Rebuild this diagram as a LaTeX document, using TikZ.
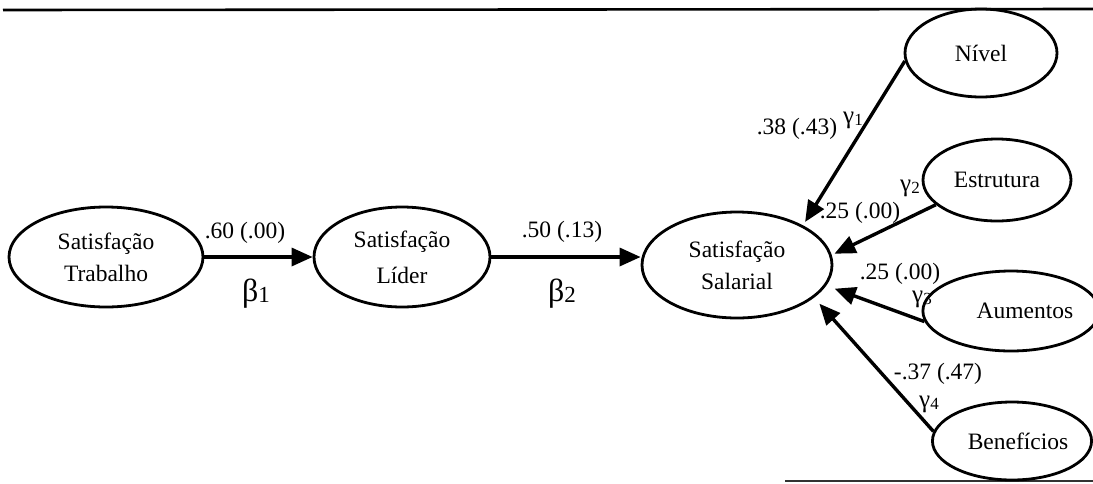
\documentclass[tikz,border=0pt]{standalone}
\usepackage{fontspec}
\setmainfont{Liberation Serif}
\usetikzlibrary{shapes.geometric,arrows.meta,calc}
\tikzset{
  lv/.style={draw, ellipse, line width=2.8pt, inner sep=0pt, align=center,
     font=\fontsize{23.5}{32}\selectfont},
  arr/.style={line width=3.4pt, -{Triangle[length=21pt,width=18pt]}},
  lab/.style={font=\fontsize{23.5}{26}\selectfont, inner sep=0pt},
  gr/.style={font=\fontsize{25}{26}\selectfont, inner sep=0pt},
  bt/.style={font=\fontsize{32}{34}\selectfont, inner sep=0pt},
}
\newcommand{\gsub}[2]{#1\raisebox{-2pt}{\fontsize{17}{17}\selectfont #2}}
\newcommand{\bsub}[2]{#1\raisebox{-1pt}{\fontsize{23}{23}\selectfont #2}}
\begin{document}
\begin{tikzpicture}[x=1pt,y=-1pt]
\useasboundingbox (0,0) rectangle (1093,483);
% rules
\draw[line width=2.6pt] (3,10) coordinate (tl) -- (1093,9) coordinate (tr);
\draw[line width=2pt, black!80] (785,481) coordinate (bl) -- (1093,481) coordinate (br);
% latent variables
\node[lv, minimum width=194pt, minimum height=100pt] (trab) at (106,257) {Satisfação\\Trabalho};
\node[lv, minimum width=176pt, minimum height=100pt] (lider) at (402,257) {Satisfação\\[4pt]Líder};
\node[lv, minimum width=190pt, minimum height=106pt] (sal) at (737,265) {Satisfação\\Salarial};
\node[lv, minimum width=152pt, minimum height=88pt] (niv) at (981,53) {Nível};
\node[lv, minimum width=148pt, minimum height=82pt] (est) at (997,180) {Estrutura};
\node[lv, minimum width=146pt, minimum height=80pt] (aum) at (1011,311) {\hspace*{28pt}Aumentos};
\node[lv, minimum width=146pt, minimum height=78pt] (ben) at (1012,441) {\hspace*{12pt}Benefícios};
% paths
\draw[arr] (trab.east) -- (lider.west);
\draw[arr] (lider.east) -- (lider.east -| sal.west);
\draw[arr, shorten >=4pt] (niv.186) -- (sal.31.7);
\draw[arr, shorten >=3pt] (est.202.6) -- (sal.6.5);
\draw[arr, shorten >=9pt] (aum.187) -- (sal.-13.2);
\draw[arr, shorten >=8pt] (ben.173.7) -- (sal.-23.1);
% labels
\node[lab] (l1) at (245,233) {.60 (.00)};
\node[bt] (b1) at (256,294) {\bsub{β}{1}};
\node[lab] (l2) at (562,232) {.50 (.13)};
\node[bt] (b2) at (562,294) {\bsub{β}{2}};
\node[lab] (l3) at (797,129) {.38 (.43)};
\node[gr] (g1) at (853,120) {\gsub{γ}{1}};
\node[lab] (l4) at (860,213) {.25 (.00)};
\node[gr] (g2) at (910,188) {\gsub{γ}{2}};
\node[lab] (l5) at (900,274) {.25 (.00)};
\node[gr] (g3) at (922,299) {\gsub{γ}{3}};
\node[lab] (l6) at (938,374) {-.37 (.47)};
\node[gr] (g4) at (929,404) {\gsub{γ}{4}};
\end{tikzpicture}
\end{document}
